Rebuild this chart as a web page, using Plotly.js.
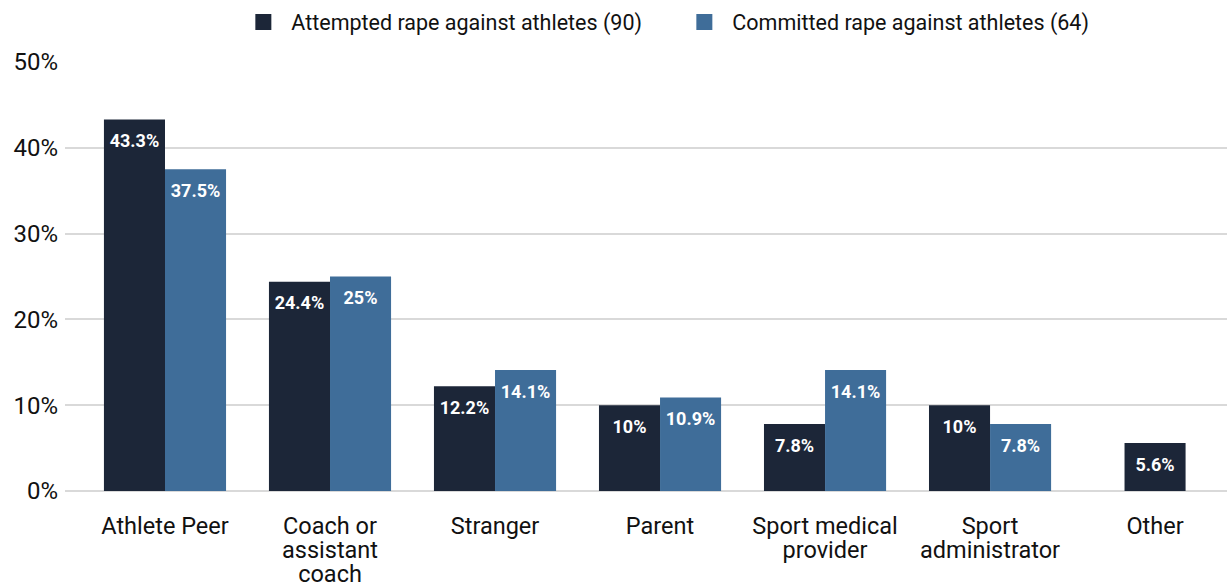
<!DOCTYPE html>
<html>
<head>
<meta charset="utf-8">
<script src="https://cdn.plot.ly/plotly-3.0.1.min.js"></script>
<style>
html,body{margin:0;padding:0;background:#fff;}
#chart{width:1227px;height:588px;}
</style>
</head>
<body>
<div id="chart"></div>
<script>
// Data
const categories = ["Athlete Peer", "Coach or<br>assistant<br>coach", "Stranger", "Parent", "Sport medical<br>provider", "Sport<br>administrator", "Other"];
const attemptedName = "Attempted rape against athletes (90)";
const committedName = "Committed rape against athletes (64)";
const attempted = [43.3, 24.4, 12.2, 10, 7.8, 10, 5.6];
const committed = [37.5, 25, 14.1, 10.9, 14.1, 7.8, null];

const BAR_W = 0.37;
const FONT = "Roboto, 'Noto Sans', 'DejaVu Sans', sans-serif";
const DARK = "#1c2638";
const BLUE = "#3f6d99";

const xIdx = categories.map((c, i) => i);
// single bars (no partner) are centred on their category
const attemptedOffset = committed.map(v => (v === null ? -BAR_W / 2 : -BAR_W));
const attemptedCentre = xIdx.map((x, i) => x + attemptedOffset[i] + BAR_W / 2);
const committedCentre = xIdx.map(x => x + BAR_W / 2);

const labelFont = {family: FONT, size: 18, color: "#ffffff", weight: "bold"};
const pct = v => (v === null ? "" : v + "%");

function labelTrace(xs, ys) {
  return {
    type: "scatter", mode: "markers+text", x: xs, y: ys,
    text: ys.map(pct), textposition: "bottom center",
    textfont: labelFont, marker: {size: 21, opacity: 0},
    showlegend: false, hoverinfo: "skip", cliponaxis: false
  };
}

const traces = [
  {
    type: "bar", name: attemptedName, x: xIdx, y: attempted,
    width: BAR_W, offset: attemptedOffset,
    marker: {color: DARK}, hoverinfo: "skip"
  },
  {
    type: "bar", name: committedName, x: xIdx, y: committed,
    width: BAR_W, offset: 0,
    marker: {color: BLUE}, hoverinfo: "skip"
  },
  labelTrace(attemptedCentre, attempted),
  labelTrace(committedCentre, committed)
];

const layout = {
  width: 1227, height: 588,
  margin: {l: 65, r: 0, t: 62, b: 97, pad: 0},
  paper_bgcolor: "#ffffff", plot_bgcolor: "#ffffff",
  barmode: "overlay",
  font: {family: FONT, color: "#111111"},
  showlegend: true,
  legend: {
    orientation: "h", x: 0.533, xanchor: "center",
    yref: "container", y: 1 - 22 / 588, yanchor: "middle",
    font: {family: FONT, size: 21.5, color: "#111111"},
    entrywidth: 396, entrywidthmode: "pixels",
    itemclick: false, itemdoubleclick: false, traceorder: "normal"
  },
  xaxis: {
    type: "linear",
    range: [-0.606, 6.436],
    tickmode: "array", tickvals: xIdx, ticktext: categories,
    showgrid: false, zeroline: false, showline: false, ticks: "",
    tickfont: {family: FONT, size: 23.5, color: "#111111"},
    ticklabelstandoff: 18, fixedrange: true
  },
  yaxis: {
    range: [0, 50],
    tickvals: [0, 10, 20, 30, 40, 50],
    ticktext: ["0%", "10%", "20%", "30%", "40%", "50%"],
    showgrid: true, gridcolor: "#d9d9d9", gridwidth: 2,
    zeroline: true, zerolinecolor: "#d9d9d9", zerolinewidth: 2,
    showline: false, ticks: "",
    tickfont: {family: FONT, size: 24, color: "#111111"},
    ticklabelstandoff: 6, fixedrange: true
  }
};

function finishStyling() {
  // the reference sets its multi-line category labels with tight leading
  document.querySelectorAll("#chart .xtick text tspan.line").forEach(t => {
    const dy = parseFloat(t.getAttribute("dy"));
    if (dy > 0) t.setAttribute("dy", (dy / 1.3 * 1.03).toFixed(3) + "em");
  });
  // larger legend swatches with a wider gap to their text, as in the reference
  document.querySelectorAll("#chart .legend .legendpoints path").forEach(p => {
    p.setAttribute("d", "M8,8H-8V-8H8Z");
  });
  document.querySelectorAll("#chart .legend text.legendtext").forEach(t => {
    t.setAttribute("x", String(parseFloat(t.getAttribute("x") || 40) + 8));
  });
}

Plotly.newPlot("chart", traces, layout, {displayModeBar: false, staticPlot: true}).then(finishStyling);
</script>
</body>
</html>
